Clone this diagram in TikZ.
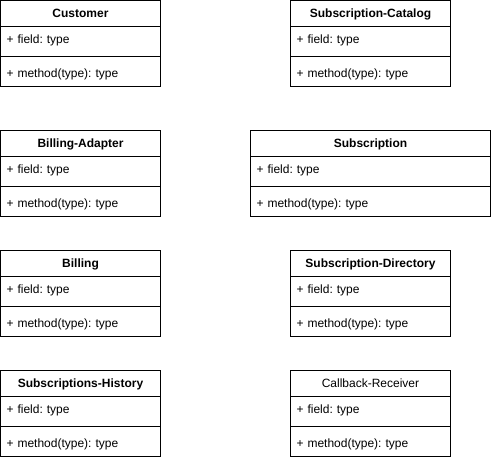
\documentclass[tikz,border=0pt]{standalone}
\usepackage{fontspec}
\setmainfont{Liberation Sans}
\usetikzlibrary{positioning}
\frenchspacing

\begin{document}
\begin{tikzpicture}
  [x=1pt,y=-1pt,line width=1pt,
   every node/.style={draw=black,rectangle,inner xsep=6pt,inner ysep=0pt,outer sep=0pt,
     font=\fontsize{12}{14}\selectfont},
   classtitle/.style={anchor=north west,minimum height=26pt,text height=17pt,text depth=9pt},
   fieldrow/.style={minimum height=30pt,text height=17pt,text depth=13pt},
   methodrow/.style={minimum height=30pt,text height=21pt,text depth=9pt}]
  \useasboundingbox (0,0) rectangle (491,460);

  % name / x / y / width / weight / title
  \foreach \n/\x/\y/\w/\b/\t in {
      cust/0.5/0.5/160/\bfseries/Customer,
      cat/290.5/0.5/160/\bfseries/Subscription-Catalog,
      adapt/0.5/130.5/160/\bfseries/Billing-Adapter,
      subs/250.5/130.5/240/\bfseries/Subscription,
      bill/0.5/250.5/160/\bfseries/Billing,
      dir/290.5/250.5/160/\bfseries/Subscription-Directory,
      hist/0.5/370.5/160/\bfseries/Subscriptions-History,
      recv/290.5/370.5/160/\relax/Callback-Receiver}
  {
    \node[classtitle,minimum width=\w pt] (\n) at (\x,\y) {\b\t};
    \node[fieldrow,text width=\w pt-12pt,below right=0pt and 0pt of \n.south west] (\n-f) {+ field: type};
    \node[methodrow,text width=\w pt-12pt,below right=0pt and 0pt of \n-f.south west] (\n-m) {+ method(type): type};
  }
\end{tikzpicture}
\end{document}
